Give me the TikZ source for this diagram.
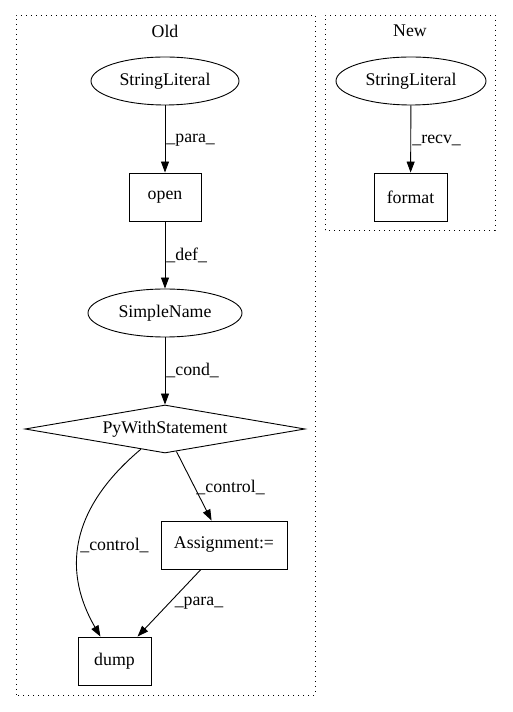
\documentclass[tikz,border=0pt]{standalone}
\usepackage{fontspec}
\setmainfont{Liberation Serif}
\usepackage{tikz}
\usetikzlibrary{arrows.meta,shapes.geometric}
\tikzset{
  style frame/.style={
    draw=black,
    line width=0.9pt,
    dash pattern=on 1.1pt off 3.9pt,
  },
  style box/.style={
    rectangle,
    draw,
    inner sep=0pt,
    minimum height=48pt,
  },
  style oval/.style={
    ellipse,
    draw,
    inner sep=0pt,
    minimum height=48pt,
  },
  style lbl/.style={
    inner sep=1pt,
    anchor=west,
  }
}

\begin{document}
\begin{tikzpicture}[x=1pt,y=1pt,line width=0.9pt,font=\fontsize{17.8}{20}\selectfont]
                    \useasboundingbox (0,0) rectangle (512,712);
                    \draw [style frame] (16,17) rectangle (315,697);
                    \draw [style frame] (325,482) rectangle (495,697);
                    \node (oldtitle) at (165,681) {Old};
                    \node (newtitle) at (410,681) {New};
                    \begin{scope}[every node/.style={line width=0.9pt}]
                        \node [style oval,minimum width=148pt] (strold) at (165,631) {StringLiteral};
                        \node [style box,minimum width=72pt] (open) at (165,515) {open};
                        \node [style oval,minimum width=154pt] (simple) at (165,399) {SimpleName};
                        \node [diamond,draw,inner sep=0pt,aspect=5.8,minimum width=280pt,minimum height=48pt] (with) at (165,283) {PyWithStatement};
                        \node [style box,minimum width=126pt] (assign) at (224,167) {Assignment:=};
                        \node [style box,minimum width=73pt] (dump) at (114.5,51) {dump};

                        \node [style oval,minimum width=150pt] (strnew) at (411,631) {StringLiteral};
                        \node [style box,minimum width=73pt] (format) at (410.5,515) {format};
                    \end{scope}
                    \begin{scope}[>={Triangle[length=11pt,width=8pt]}]
                        \path [->,draw] (strold) -- (open) node [style lbl] at (165,572) {\_para\_};
                        \path [->,draw] (open) -- (simple) node [style lbl] at (165,457) {\_def\_};
                        \path [->,draw] (simple) -- (with) node [style lbl] at (165,342) {\_cond\_};
                        \path [->,draw] (with) -- (assign) node [style lbl] at (195,225) {\_control\_};
                        \path [->] (with) edge [out=220,in=120,looseness=1.12] (dump);
                        \node [inner sep=1pt] (ctrl) at (114.5,167) {\_control\_};
                        \path [->,draw] (assign) -- (dump) node [inner sep=1pt] at (199,109) {\_para\_};
                        \path [->,draw] (strnew) -- (format) node [style lbl] at (411,572) {\_recv\_};
                    \end{scope}
                \end{tikzpicture}
\end{document}
